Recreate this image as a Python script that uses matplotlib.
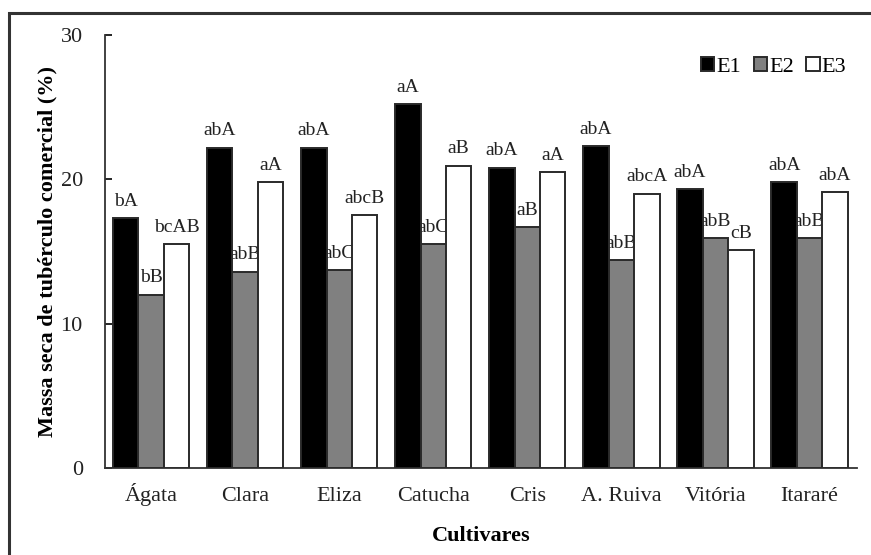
import numpy as np
import matplotlib.pyplot as plt
from matplotlib.patches import Rectangle

plt.rcParams['font.family'] = 'Liberation Serif'

cultivares = ['Ágata', 'Clara', 'Eliza', 'Catucha', 'Cris', 'A. Ruiva', 'Vitória', 'Itararé']
e1 = [17.3, 22.2, 22.2, 25.2, 20.8, 22.3, 19.3, 19.8]
e2 = [12.0, 13.6, 13.7, 15.5, 16.7, 14.4, 15.9, 15.9]
e3 = [15.5, 19.8, 17.5, 20.95, 20.5, 19.0, 15.1, 19.1]
lab1 = ['bA', 'abA', 'abA', 'aA', 'abA', 'abA', 'abA', 'abA']
lab2 = ['bB', 'abB', 'abC', 'abC', 'aB', 'abB', 'abB', 'abB']
lab3 = ['bcAB', 'aA', 'abcB', 'aB', 'aA', 'abcA', 'cB', 'abA']

fig = plt.figure(figsize=(8.71, 5.55), dpi=100)
ax = fig.add_axes([0.1206, 0.1568, 0.9845 - 0.1206, 0.937 - 0.1568])

x = np.arange(len(cultivares))
w = 0.27
series = [(e1, lab1, '#000000', 'E1'), (e2, lab2, '#808080', 'E2'), (e3, lab3, '#ffffff', 'E3')]
for i, (vals, labs, col, name) in enumerate(series):
    pos = x + (i - 1) * w
    ax.bar(pos, vals, w, color=col, edgecolor='#2a2a2a', linewidth=1.4, label=name, zorder=3)
    # letters sit behind the bars so neighbouring bars clip wide labels
    for px, v, t in zip(pos, vals, labs):
        ax.annotate(t, (px, v), xytext=(0, 6), textcoords='offset points',
                    ha='center', va='bottom', fontsize=14, color='#222222', zorder=1)

ax.set_xlim(-0.49, 7.51)
ax.set_ylim(0, 30)
ax.set_yticks([0, 10, 20, 30])
ax.set_xticks(x)
ax.set_xticklabels(cultivares, fontsize=16, color='#222222', va='baseline')
ax.tick_params(axis='x', length=0, pad=24)
ax.tick_params(axis='y', direction='in', length=5, width=1.2, pad=16, labelsize=16, labelcolor='#222222')
for s in ['top', 'right']:
    ax.spines[s].set_visible(False)
for s in ['left', 'bottom']:
    ax.spines[s].set_linewidth(1.3)
    ax.spines[s].set_color('#333333')

ax.set_ylabel('Massa seca de tubérculo comercial (%)', fontsize=16, fontweight='bold', labelpad=2)
ax.set_xlabel('Cultivares', fontsize=16, fontweight='bold', labelpad=14)

ax.legend(loc='upper right', ncol=3, frameon=False, fontsize=16, handlelength=0.6, handleheight=0.6,
          handletextpad=0.1, columnspacing=0.55, bbox_to_anchor=(0.997, 0.97), borderaxespad=0)

# outer frame
fig.add_artist(Rectangle((9 / 871, -0.2), 1.0, 1.2 - 13 / 555, transform=fig.transFigure,
                         fill=False, edgecolor='#333333', linewidth=2.2))

fig.savefig('out.png', dpi=100)
